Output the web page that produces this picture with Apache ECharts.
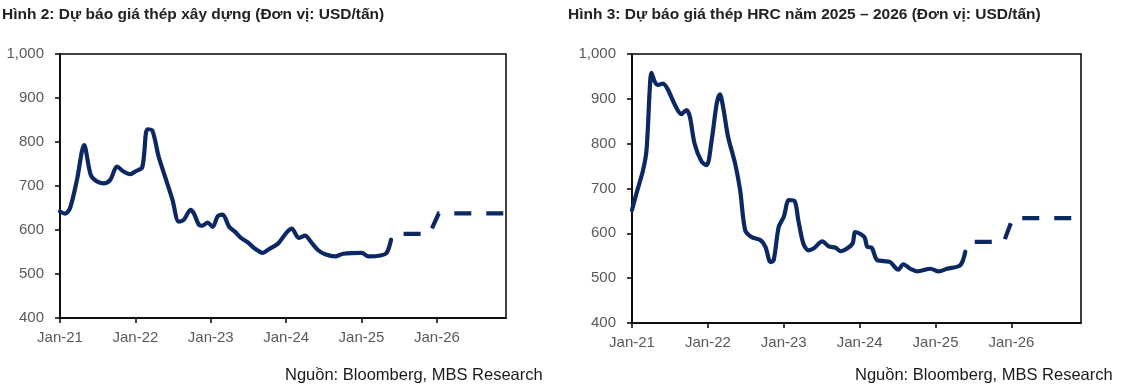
<!DOCTYPE html>
<html>
<head>
<meta charset="utf-8">
<script src="https://cdn.jsdelivr.net/npm/echarts@6.0.0/dist/echarts.min.js"></script>
<style>
html,body{margin:0;padding:0;background:#fff;}
#chart{width:1128px;height:388px;}
</style>
</head>
<body>
<div id="chart"></div>
<script>
// ---- Data (x = months since Jan-21) ----
const xTickLabels = ['Jan-21', 'Jan-22', 'Jan-23', 'Jan-24', 'Jan-25', 'Jan-26'];
const xTickMonths = [0, 12, 24, 36, 48, 60];

const titleLeft = 'Hình 2: Dự báo giá thép xây dựng (Đơn vị: USD/tấn)';
const titleRight = 'Hình 3: Dự báo giá thép HRC năm 2025 – 2026 (Đơn vị: USD/tấn)';
const sourceText = 'Nguồn: Bloomberg, MBS Research';

// Hình 2 – construction steel, actual
const h2Months = [0,0.8,1.6,2.7,3.84,4.9,5.9,6.9,8,9.07,10.1,11.2,12,13.1,13.9,14.7,15.7,16.8,17.9,18.9,19.7,20.8,21.3,22.1,22.7,23.5,24.3,25.1,25.9,26.9,28,28.8,29.9,30.9,32.3,33.3,34.7,36,36.9,38,39,40.1,41.1,42.2,43.8,45.1,48,49.1,51,52,52.7];
const h2Prices = [642,637,650,714,793,725,710,706,714,744,733,727,733,743,829,826,767,718,669,619,623,646,638,612,610,617,607,631,635,608,594,582,572,559,548,557,569,593,603,582,587,570,554,545,540,546,548,540,542,548,578];
// Hình 2 – forecast
const h2FcMonths = [54.7, 58.8, 60.3, 71];
const h2FcPrices = [591, 591, 638, 638];

// Hình 3 – HRC, actual
const h3Months = [0,0.7,1.75,2.3,2.8,3.07,3.6,4.1,4.9,5.7,6.8,7.8,8.6,9.15,9.9,11,11.8,12.6,13.4,13.9,14.4,15.2,16.3,17.1,17.9,18.9,20.3,21.1,21.9,22.4,23.2,24,24.8,25.7,26.3,27.1,27.9,28.7,30.1,31.1,32.2,33,34,34.9,35.3,36.2,36.8,37.2,37.9,38.7,39.8,40.8,42.1,42.9,44,45.1,47.2,48.5,49.8,51.9,52.7];
const h3Prices = [652,689,741,786,920,958,938,931,934,920,886,866,875,860,800,760,752,808,890,910,882,815,756,696,607,592,585,570,536,540,614,637,674,672,629,577,562,566,582,571,568,560,566,578,603,598,590,570,568,541,538,536,519,531,521,515,521,515,521,529,559];
// Hình 3 – forecast
const h3FcMonths = [54.2, 58.8, 60.2, 71];
const h3FcPrices = [581, 581, 634, 634];

const yMin = 400, yMax = 1000, yStep = 100;
const xMin = 0, xMax = 71;

// ---- Build ----
const LINE = '#0b2862';
const FONT = 'Liberation Sans, Arial, sans-serif';
const pairs = (xs, ys) => xs.map((x, i) => [x, ys[i]]);

function xAxis(gi) {
  return {
    type: 'value', gridIndex: gi, min: xMin, max: xMax,
    axisLine: { show: true, lineStyle: { color: '#000', width: 1.5 } },
    axisTick: { show: true, length: 5, lineStyle: { color: '#000', width: 1.5 }, customValues: xTickMonths },
    axisLabel: {
      customValues: xTickMonths, margin: 12, color: '#595959', fontSize: 15, fontFamily: FONT,
      formatter: v => { const i = xTickMonths.indexOf(v); return i >= 0 ? xTickLabels[i] : ''; }
    },
    splitLine: { show: false }
  };
}
function yAxis(gi) {
  return {
    type: 'value', gridIndex: gi, min: yMin, max: yMax, interval: yStep,
    axisLine: { show: true, lineStyle: { color: '#000', width: 1.5 } },
    axisTick: { show: true, length: 5, lineStyle: { color: '#000', width: 1.5 } },
    axisLabel: {
      margin: 16, color: '#595959', fontSize: 15, fontFamily: FONT,
      formatter: v => v.toLocaleString('en-US')
    },
    splitLine: { show: false }
  };
}
function solid(gi, xs, ys) {
  return {
    type: 'line', xAxisIndex: gi, yAxisIndex: gi, data: pairs(xs, ys),
    showSymbol: false, smooth: 0.3, silent: true,
    lineStyle: { color: LINE, width: 4.2, cap: 'round', join: 'round' }
  };
}
function dashed(gi, xs, ys) {
  return {
    type: 'line', xAxisIndex: gi, yAxisIndex: gi, data: pairs(xs, ys),
    showSymbol: false, smooth: false, silent: true,
    lineStyle: { color: LINE, width: 4.2, type: [17, 15], cap: 'butt', join: 'miter' }
  };
}

const titleFont = { fontSize: 15.5, fontWeight: 'bold', color: '#222', fontFamily: FONT };
const srcFont = { fontSize: 16.5, fontWeight: 'normal', color: '#1a1a1a', fontFamily: FONT };

const option = {
  animation: false,
  backgroundColor: '#fff',
  title: [
    { text: titleLeft, left: 2, top: 7, textStyle: titleFont, padding: 0 },
    { text: titleRight, left: 568, top: 7, textStyle: titleFont, padding: 0 },
    { text: sourceText, left: 285, top: 367, textStyle: srcFont, padding: 0 },
    { text: sourceText, left: 855, top: 367, textStyle: srcFont, padding: 0 }
  ],
  grid: [
    { left: 60, top: 54, width: 446, height: 264, show: true, borderColor: '#000', borderWidth: 1.5, backgroundColor: 'transparent' },
    { left: 632, top: 54, width: 449, height: 269, show: true, borderColor: '#000', borderWidth: 1.5, backgroundColor: 'transparent' }
  ],
  xAxis: [xAxis(0), xAxis(1)],
  yAxis: [yAxis(0), yAxis(1)],
  series: [
    solid(0, h2Months, h2Prices),
    dashed(0, h2FcMonths, h2FcPrices),
    solid(1, h3Months, h3Prices),
    dashed(1, h3FcMonths, h3FcPrices)
  ]
};

const chart = echarts.init(document.getElementById('chart'), null, { renderer: 'canvas' });
chart.setOption(option);
</script>
</body>
</html>
